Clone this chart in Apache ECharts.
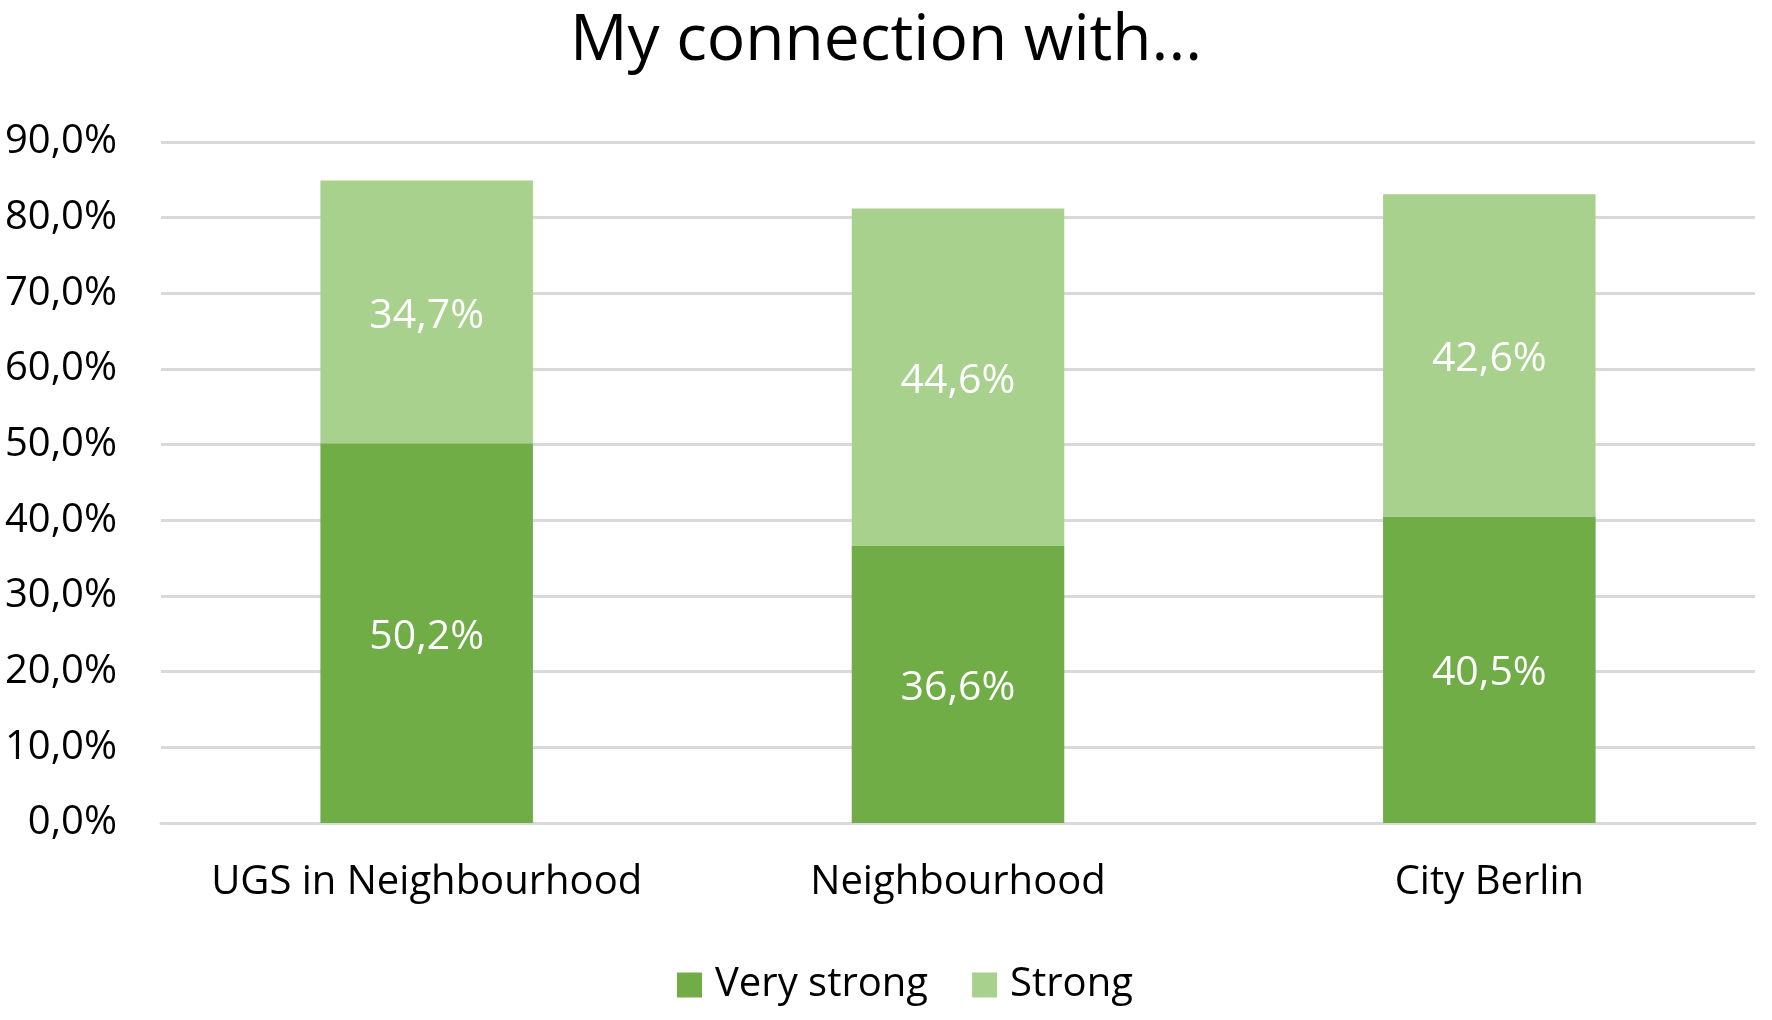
<!DOCTYPE html>
<html><head><meta charset="utf-8">
<script src="https://cdn.jsdelivr.net/npm/echarts@6/dist/echarts.min.js"></script>
<style>html,body{margin:0;padding:0;background:#fff}#c{width:1772px;height:1020px}</style>
</head><body><div id="c"></div>
<script>
const categories = ['UGS in Neighbourhood', 'Neighbourhood', 'City Berlin'];
const veryStrong = [50.2, 36.6, 40.5];
const strong = [34.7, 44.6, 42.6];
const yTicks = { min: 0, max: 90, interval: 10 };
const FONT = 'Open Sans';
const fmt = v => v.toFixed(1).replace('.', ',') + '%';

const chart = echarts.init(document.getElementById('c'), null, { renderer: 'canvas' });
chart.setOption({
  animation: false,
  backgroundColor: '#ffffff',
  title: {
    text: 'My connection with...', left: 'center', top: 5,
    textStyle: { fontFamily: FONT, fontSize: 64, fontWeight: 'normal', color: '#000' }
  },
  legend: {
    bottom: 10, left: 672, itemWidth: 25, itemHeight: 25, itemGap: 44,
    icon: 'rect',
    textStyle: { fontFamily: FONT, fontSize: 40, color: '#000', padding: [0, 0, 0, 8] },
    data: ['Very strong', 'Strong']
  },
  grid: { left: 161, right: 17, top: 142, bottom: 197, containLabel: false },
  xAxis: {
    type: 'category', data: categories,
    axisLine: { show: true, lineStyle: { color: '#d9d9d9', width: 3 } },
    axisTick: { show: false },
    axisLabel: { interval: 0, fontFamily: FONT, fontSize: 40, color: '#000', margin: 40 }
  },
  yAxis: {
    type: 'value', min: yTicks.min, max: yTicks.max, interval: yTicks.interval,
    axisLine: { show: false }, axisTick: { show: false },
    splitLine: { lineStyle: { color: '#d9d9d9', width: 3 } },
    axisLabel: { fontFamily: FONT, fontSize: 40, color: '#000', margin: 44, formatter: fmt }
  },
  series: [
    {
      name: 'Very strong', type: 'bar', stack: 's', data: veryStrong,
      barWidth: '40%', itemStyle: { color: '#70ad47' },
      label: { show: true, position: 'inside', offset: [0, 4], formatter: p => fmt(p.value), color: '#fff', fontFamily: FONT, fontSize: 41 }
    },
    {
      name: 'Strong', type: 'bar', stack: 's', data: strong,
      barWidth: '40%', itemStyle: { color: '#a9d18e' },
      label: { show: true, position: 'inside', offset: [0, 4], formatter: p => fmt(p.value), color: '#fff', fontFamily: FONT, fontSize: 41 }
    }
  ]
});
</script></body></html>
